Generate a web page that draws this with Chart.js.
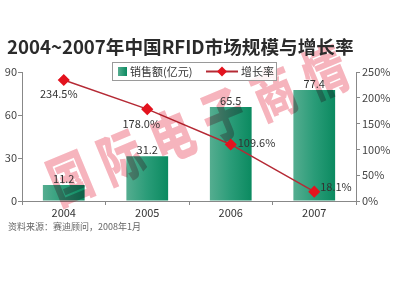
<!DOCTYPE html>
<html><head><meta charset="utf-8">
<script src="https://cdn.jsdelivr.net/npm/chart.js@4.4.1/dist/chart.umd.min.js"></script>
<style>html,body{margin:0;padding:0;background:#fff}#w{width:400px;height:300px}</style>
</head><body><div id="w"><canvas id="c" width="400" height="300"></canvas></div>
<script>
const title = '2004~2007年中国RFID市场规模与增长率';
const categories = ['2004', '2005', '2006', '2007'];
const salesValues = [11.2, 31.2, 65.5, 77.4];
const growthValues = [234.5, 178.0, 109.6, 18.1];
const leftTicks = [0, 30, 60, 90];
const rightTicks = [0, 50, 100, 150, 200, 250];
const salesLabel = '销售额(亿元)';
const growthLabel = '增长率';
const sourceText = '资料来源：赛迪顾问，2008年1月';
const watermark = '国际电子商情';

const FONT = '"Noto Sans CJK SC", "Noto Sans", sans-serif';

function barGradient(c) {
  const chart = c.chart;
  const xs = chart.scales.x;
  if (!xs || xs.left === undefined || !chart.chartArea) return '#239a72';
  const cx = xs.getPixelForValue(c.dataIndex);
  const w = (xs.width / categories.length) * 0.5;
  const g = chart.ctx.createLinearGradient(cx - w / 2, 0, cx + w / 2, 0);
  g.addColorStop(0, '#55ad90');
  g.addColorStop(0.5, '#2a9c78');
  g.addColorStop(1, '#0b8a60');
  return g;
}

const deco = {
  id: 'deco',
  afterDatasetsDraw(chart) {
    const ctx = chart.ctx;
    ctx.save();
    ctx.globalCompositeOperation = 'multiply';
    ctx.fillStyle = '#f6b4bd';
    ctx.font = '900 56px ' + FONT;
    ctx.textAlign = 'center';
    ctx.textBaseline = 'middle';
    const x0 = 70, y0 = 178, x1 = 325, y1 = 72;
    const ang = Math.atan2(y1 - y0, x1 - x0);
    const n = watermark.length;
    for (let i = 0; i < n; i++) {
      const t = i / (n - 1);
      ctx.save();
      ctx.translate(x0 + (x1 - x0) * t, y0 + (y1 - y0) * t);
      ctx.rotate(ang);
      ctx.scale(0.75, 1);
      ctx.fillText(watermark[i], 0, 0);
      ctx.restore();
    }
    ctx.restore();
  },
  afterDraw(chart) {
    const ctx = chart.ctx;
    ctx.save();
    let fs = 18;
    ctx.font = 'bold ' + fs + 'px ' + FONT;
    const tw = ctx.measureText(title).width;
    fs = fs * 347 / tw;
    ctx.font = 'bold ' + fs.toFixed(2) + 'px ' + FONT;
    ctx.fillStyle = '#2b2b2b';
    ctx.textBaseline = 'middle';
    ctx.textAlign = 'left';
    ctx.fillText(title, 7, 47);

    const bm = chart.getDatasetMeta(0);
    ctx.font = '11px ' + FONT;
    ctx.fillStyle = '#333';
    ctx.textAlign = 'center';
    ctx.textBaseline = 'bottom';
    bm.data.forEach((el, i) => {
      ctx.fillText(salesValues[i].toFixed(1), el.x, el.y - 1);
    });
    const lm = chart.getDatasetMeta(1);
    const offs = [[-5, 14, 'center'], [-6, 15, 'center'], [7, -2, 'left'], [6, -5, 'left']];
    ctx.textBaseline = 'middle';
    lm.data.forEach((el, i) => {
      const o = offs[i];
      ctx.textAlign = o[2];
      ctx.fillText(growthValues[i].toFixed(1) + '%', el.x + o[0], el.y + o[1]);
    });

    ctx.fillStyle = 'rgba(255,255,255,0.85)';
    ctx.fillRect(112, 62, 164, 18);
    ctx.strokeStyle = '#9a9a9a';
    ctx.lineWidth = 1;
    ctx.strokeRect(112.5, 62.5, 164, 18);
    const g = ctx.createLinearGradient(118, 0, 127, 0);
    g.addColorStop(0, '#55ad90'); g.addColorStop(1, '#0b8a60');
    ctx.fillStyle = g;
    ctx.fillRect(118, 67, 9, 9);
    ctx.fillStyle = '#333';
    ctx.font = '11px ' + FONT;
    ctx.textAlign = 'left';
    ctx.textBaseline = 'middle';
    ctx.fillText(salesLabel, 130, 71.5);
    ctx.strokeStyle = '#b52a35';
    ctx.lineWidth = 2;
    ctx.beginPath(); ctx.moveTo(206, 71.5); ctx.lineTo(238, 71.5); ctx.stroke();
    ctx.fillStyle = '#e3131e';
    ctx.beginPath();
    ctx.moveTo(222, 66.5); ctx.lineTo(227, 71.5); ctx.lineTo(222, 76.5); ctx.lineTo(217, 71.5);
    ctx.closePath(); ctx.fill();
    ctx.fillStyle = '#333';
    ctx.fillText(growthLabel, 241, 71.5);

    ctx.font = '9px ' + FONT;
    ctx.fillStyle = '#666';
    ctx.fillText(sourceText, 8, 227);
    ctx.restore();
  }
};

new Chart(document.getElementById('c'), {
  data: {
    labels: categories,
    datasets: [
      {
        type: 'bar', label: salesLabel, data: salesValues, yAxisID: 'y',
        backgroundColor: barGradient, barPercentage: 0.5, categoryPercentage: 1, order: 2
      },
      {
        type: 'line', label: growthLabel, data: growthValues, yAxisID: 'y2',
        borderColor: '#b52a35', borderWidth: 1.5, pointStyle: 'rectRot', pointRadius: 5,
        pointBackgroundColor: '#e3131e', pointBorderColor: '#e3131e', order: 1
      }
    ]
  },
  options: {
    responsive: false, animation: false,
    layout: { padding: { top: 72, left: 0, right: 0, bottom: 0 } },
    plugins: { legend: { display: false }, title: { display: false }, tooltip: { enabled: false } },
    scales: {
      x: {
        grid: { display: true, drawOnChartArea: false, offset: true, tickLength: 4, color: '#888' },
        border: { color: '#888' },
        ticks: { color: '#333', font: { size: 11, family: FONT }, padding: 1 },
        afterFit(s) { s.height = 99; }
      },
      y: {
        position: 'left', min: 0, max: 90,
        afterBuildTicks(s) { s.ticks = leftTicks.map(v => ({ value: v })); },
        grid: { drawOnChartArea: false, tickLength: 4, color: '#888' },
        border: { color: '#888' },
        ticks: { color: '#444', font: { size: 11, family: FONT }, padding: 1 },
        afterFit(s) { s.width = 22; }
      },
      y2: {
        position: 'right', min: 0, max: 250,
        afterBuildTicks(s) { s.ticks = rightTicks.map(v => ({ value: v })); },
        grid: { drawOnChartArea: false, tickLength: 4, color: '#888' },
        border: { color: '#888' },
        ticks: { color: '#444', font: { size: 11, family: FONT }, padding: 2, callback: v => v + '%' },
        afterFit(s) { s.width = 44; }
      }
    }
  },
  plugins: [deco]
});
</script></body></html>
